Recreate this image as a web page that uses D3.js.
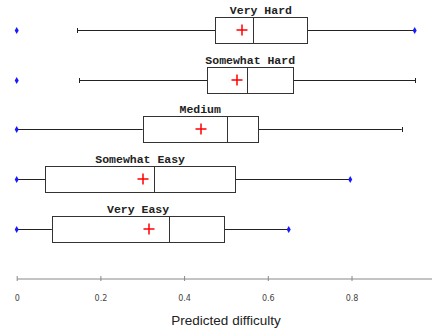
<!DOCTYPE html>
<html>
<head>
<meta charset="utf-8">
<script src="https://cdn.jsdelivr.net/npm/d3@7"></script>
<style>
	body { margin: 0; background: #fff; }
	svg { display: block; }
</style>
</head>
<body>
<svg id="chart"></svg>
<script>
const categories = ['Very Hard', 'Somewhat Hard', 'Medium', 'Somewhat Easy', 'Very Easy'];
const whiskerLow = [0.145, 0.149, 0, 0, 0];
const q1 = [0.474, 0.455, 0.301, 0.068, 0.084];
const median = [0.564, 0.550, 0.502, 0.328, 0.365];
const q3 = [0.693, 0.661, 0.576, 0.522, 0.496];
const whiskerHigh = [0.951, 0.952, 0.920, 0.797, 0.650];
const means = [0.538, 0.526, 0.440, 0.301, 0.315];
const extremes = [[0, 0.951], [0], [0], [0, 0.797], [0, 0.650]];
const tickValues = [0, 0.2, 0.4, 0.6, 0.8];

const totalWidth = 432;
const totalHeight = 328;
const BOX_HEIGHT = 26;
const CAP = 2.5;
const PLUS = 5.5;

const rows = categories.map((c, i) => ({
	label: c,
	lo: whiskerLow[i],
	q1: q1[i],
	med: median[i],
	q3: q3[i],
	hi: whiskerHigh[i],
	mean: means[i],
	dots: extremes[i]
}));

const xScale = d3.scaleLinear([0, 1], [16.7, 435.2]);
const yScale = d3.scalePoint(categories, [30, 228.5]);
const crisp = (v) => Math.round(v) + 0.5;

const svg = d3.select('#chart')
	.attr('width', totalWidth)
	.attr('height', totalHeight);

/** BOXES *******************************************************************/
svg.selectAll('.row')
	.data(rows)
	.enter()
	.append('g')
	.attr('class', 'row')
	.each(function (d) {
		const row = d3.select(this);
		const y = crisp(yScale(d.label));
		const top = y - BOX_HEIGHT / 2;

		// whiskers
		row.append('line')
			.attr('x1', xScale(d.lo)).attr('x2', xScale(d.q1))
			.attr('y1', y).attr('y2', y)
			.attr('stroke', '#222');
		row.append('line')
			.attr('x1', xScale(d.q3)).attr('x2', xScale(d.hi))
			.attr('y1', y).attr('y2', y)
			.attr('stroke', '#222');

		// caps where the whisker end is not an extreme dot
		[d.lo, d.hi].filter((v) => !d.dots.includes(v)).forEach((v) => {
			row.append('line')
				.attr('x1', crisp(xScale(v))).attr('x2', crisp(xScale(v)))
				.attr('y1', y - CAP).attr('y2', y + CAP)
				.attr('stroke', '#222');
		});

		row.append('rect')
			.attr('x', crisp(xScale(d.q1)))
			.attr('y', top)
			.attr('width', Math.round(xScale(d.q3) - xScale(d.q1)))
			.attr('height', BOX_HEIGHT)
			.attr('fill', '#fff')
			.attr('stroke', '#333');

		row.append('line')
			.attr('x1', crisp(xScale(d.med))).attr('x2', crisp(xScale(d.med)))
			.attr('y1', top).attr('y2', top + BOX_HEIGHT)
			.attr('stroke', '#333');

		// mean marker
		const mx = Math.round(xScale(d.mean));
		const my = Math.round(yScale(d.label));
		row.append('path')
			.attr('d', `M${mx - PLUS},${my}H${mx + PLUS}M${mx},${my - PLUS}V${my + PLUS}`)
			.attr('stroke', '#ff0000')
			.attr('stroke-width', 1.5)
			.attr('fill', 'none');

		row.selectAll('.dot')
			.data(d.dots)
			.enter()
			.append('path')
			.attr('class', 'dot')
			.attr('d', d3.symbol(d3.symbolDiamond, 14))
			.attr('transform', (v) => `translate(${xScale(v)}, ${y})`)
			.attr('fill', '#1a1aff');

		row.append('text')
			.attr('x', (xScale(d.q1) + xScale(d.q3)) / 2)
			.attr('y', top - 4)
			.attr('text-anchor', 'middle')
			.attr('font-family', 'Liberation Mono, Courier New, monospace')
			.attr('font-weight', 'bold')
			.attr('font-size', 11.5)
			.attr('fill', '#222')
			.text(d.label);
	});

/** BOTTOM AXIS *************************************************************/
const axisY = 278.5;
const bottomAxis = d3.axisBottom(xScale)
	.tickValues(tickValues)
	.tickFormat(d3.format('~g'))
	.tickSizeOuter(0)
	.tickPadding(11);

const axisG = svg.append('g')
	.attr('transform', `translate(0, ${axisY})`)
	.call(bottomAxis);

axisG.select('.domain').attr('stroke', '#888');
axisG.selectAll('.tick line')
	.attr('stroke', '#888')
	.attr('y1', -CAP)
	.attr('y2', CAP);
axisG.selectAll('.tick text')
	.attr('font-family', 'DejaVu Sans, Verdana, sans-serif')
	.attr('font-size', 8)
	.attr('fill', '#444');

svg.append('text')
	.attr('x', 226)
	.attr('y', 325)
	.attr('text-anchor', 'middle')
	.attr('font-family', 'Liberation Sans, Arial, sans-serif')
	.attr('font-size', 13.5)
	.attr('fill', '#222')
	.text('Predicted difficulty');
</script>
</body>
</html>
